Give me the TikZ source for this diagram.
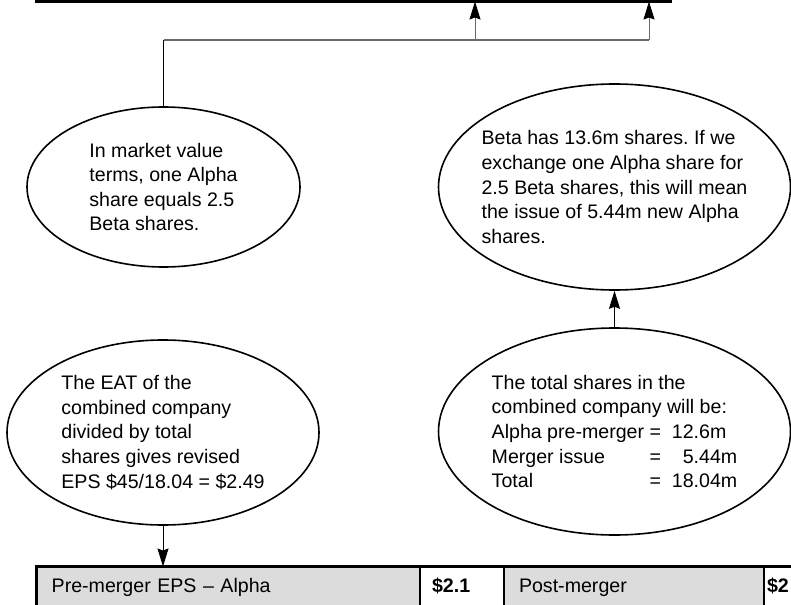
\documentclass[tikz,border=0pt]{standalone}
\usepackage{fontspec}
\setmainfont{Liberation Sans}
\usepackage{xcolor}
\usetikzlibrary{arrows.meta,positioning,shapes.geometric}
\definecolor{cellgray}{RGB}{220,220,220}
\definecolor{wiregray}{RGB}{105,105,105}
\newcommand{\sharerow}[2]{\makebox[158pt][l]{#1}=\hspace{10.8pt}#2}
\frenchspacing

\begin{document}
\begin{tikzpicture}[
  x=1pt, y=-1pt,
  font=\fontsize{19.6pt}{24.6pt}\selectfont,
  bubble/.style={ellipse, draw, line width=1.6pt, align=left, inner sep=-30pt},
  cell/.style={rectangle, draw, line width=2pt, outer sep=0pt, inner ysep=0pt,
               minimum height=50pt, text height=14pt, text depth=11.4pt, align=left},
  arr/.style={-{Stealth[length=18pt, width=11pt, inset=2pt, color=black]}, line width=1pt},
  wire/.style={draw=wiregray, line width=1.3pt}
]
\useasboundingbox (0,0) rectangle (791,604);
\clip (0,0) rectangle (791,604);

\node[cell, minimum width=467.3pt, line width=1pt, anchor=south west] (valbox) at (36.7,1.5) {};
\node[cell, minimum width=166pt, line width=1pt, right=0pt of valbox] (pricebox) {};
\draw[line width=3pt] (valbox.north west) rectangle (pricebox.south east);

\node[bubble, minimum width=273pt, minimum height=160pt] (market) at (163.5,187)
  {In market value\\ terms, one Alpha\\ share equals 2.5\\ Beta shares.};
\node[bubble, minimum width=352pt, minimum height=206pt] (issue) at (614.5,187)
  {Beta has 13.6m shares. If we\\ exchange one Alpha share for\\ 2.5 Beta shares, this will mean\\ the issue of 5.44m new Alpha\\ shares.};
\node[bubble, minimum width=312pt, minimum height=185pt] (eps) at (163,432.5)
  {The EAT of the\\ combined company\\ divided by total\\ shares gives revised\\ EPS \$45/18.04 = \$2.49};
\node[bubble, minimum width=352pt, minimum height=207pt] (total) at (614.5,431.5)
  {The total shares in the\\ combined company will be:\\
   \sharerow{Alpha pre-merger}{12.6m}\\
   \sharerow{Merger issue}{\hphantom{1}5.44m}\\
   \sharerow{Total}{18.04m}};

\node[cell, fill=cellgray, text width=353.3pt, inner xsep=15pt, anchor=north west] (preeps) at (36.7,566.5) {Pre-merger EPS -- Alpha};
\node[cell, fill=white, text width=60pt, inner xsep=12pt, right=0pt of preeps] (preval) {\textbf{\$2.1}};
\node[cell, fill=cellgray, text width=230pt, inner xsep=15pt, right=0pt of preval] (posteps) {Post-merger};
\node[cell, fill=white, text width=100pt, inner xsep=3pt, right=0pt of posteps] (postval) {\textbf{\$2}};
\draw[line width=3pt] (preeps.north west) rectangle (postval.south east);

\coordinate (tee) at (475,40);
\coordinate (elbow) at (649,40);
\draw[line width=1pt] (market.north) -- (market.north |- tee);
\draw[wire] (market.north |- tee) -- (elbow);
\draw[arr, wiregray] (tee) -- (tee |- valbox.south);
\draw[arr, wiregray] (elbow) -- (elbow |- pricebox.south);
\draw[arr] (total.north) -- (issue.south);
\draw[arr] (eps.south) -- (eps.south |- preeps.north);
\end{tikzpicture}
\end{document}
